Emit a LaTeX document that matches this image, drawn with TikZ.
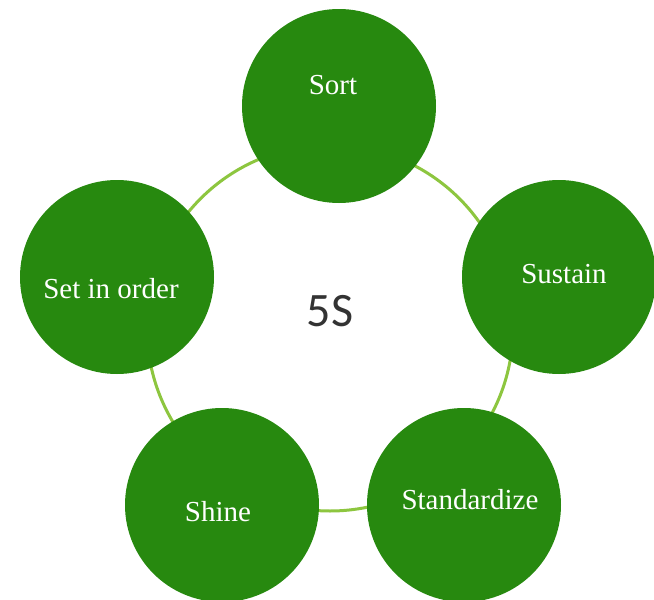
\documentclass[tikz,border=0pt]{standalone}
\usepackage{fontspec}
\setmainfont{Liberation Serif}
\newfontfamily\calibrifont{Carlito}
\definecolor{stagegreen}{RGB}{39,137,15}
\definecolor{ringgreen}{RGB}{141,198,63}
\definecolor{titlegray}{RGB}{51,51,51}
\tikzset{
  stage/.style={circle, fill=stagegreen, minimum size=194pt, inner sep=0pt},
  stagetext/.style={text=white, font=\fontsize{29}{32}\selectfont, inner sep=0pt}
}

\begin{document}
\begin{tikzpicture}[x=1pt, y=-1pt]
\clip (0,0) rectangle (654,600);
\fill[white] (0,0) rectangle (654,600);
% ring behind the five steps
\draw[ringgreen, line width=3pt] (330,328) circle (183);
\foreach \name/\x/\y in {sort/339/106, sustain/559/277, shine/222/505, standardize/464/505, setinorder/117/277} {
 \node[stage] (\name) at (\x,\y) {};
}
\node[stagetext] (sorttext) at (333,85) {Sort};
\node[stagetext] (sustaintext) at (564,274) {Sustain};
\node[stagetext] (standardizetext) at (470,500) {Standardize};
\node[stagetext] (shinetext) at (218,512) {Shine};
\node[stagetext] (setinordertext) at (111,289) {Set in order};
\node[text=titlegray, font=\calibrifont\fontsize{48}{52}\selectfont, inner sep=0pt] (title) at (330,311) {5S};
\end{tikzpicture}
\end{document}
